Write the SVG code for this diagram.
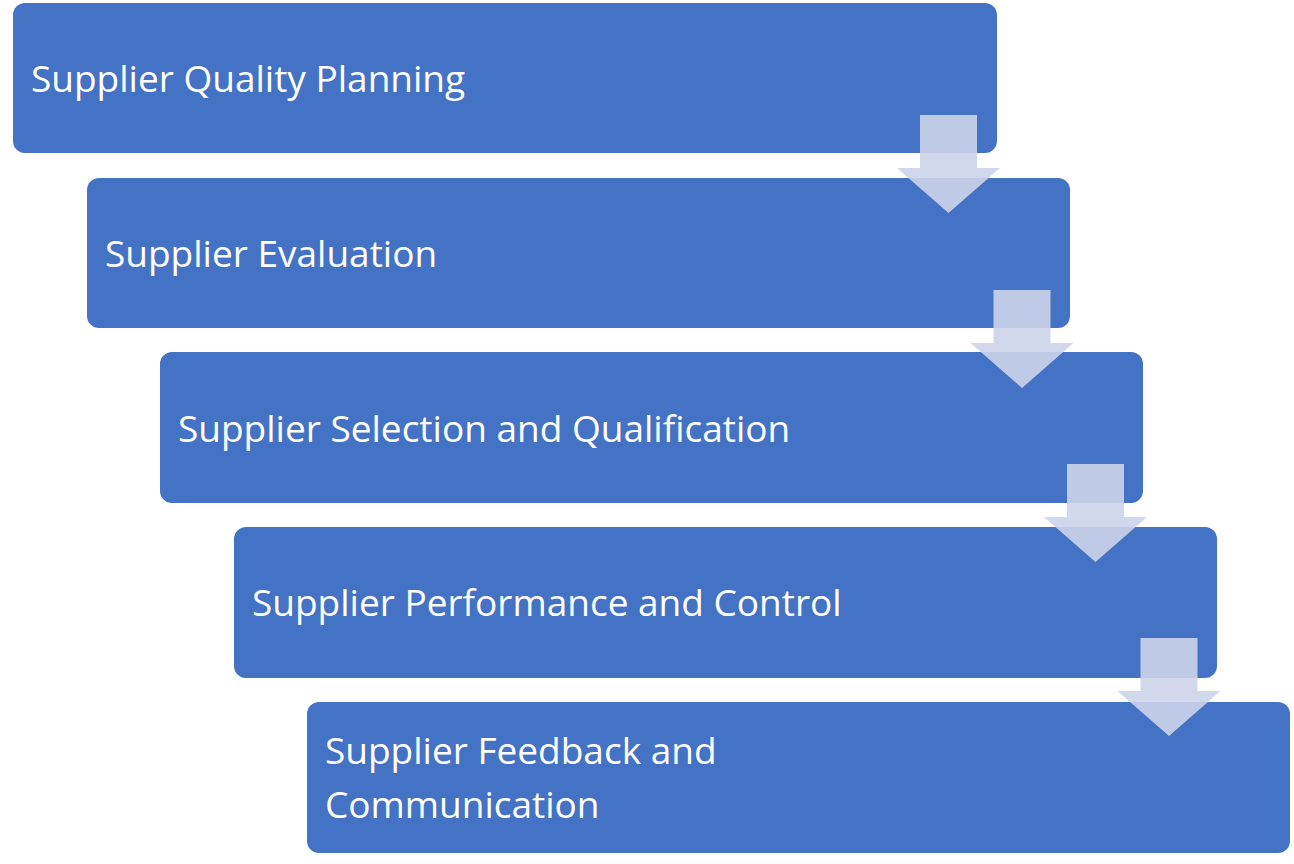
<svg xmlns="http://www.w3.org/2000/svg" width="1294" height="864" viewBox="0 0 1294 864">
<style>
.b{fill:#4472C4}
.t{fill:#fff;font-family:"Open Sans",sans-serif;font-size:37px}
.a{fill:#CDD4EA;fill-opacity:0.9}
</style>
<defs>
<path id="arr" d="M920 115H977V168H1000L948.5 213L897 168H920Z"/>
</defs>
<rect width="1294" height="864" fill="#fff"/>
<g id="n1"><rect class="b" x="13" y="3" width="984" height="150" rx="12"/><text class="t" x="31" y="92">Supplier Quality Planning</text></g>
<g id="n2"><rect class="b" x="87" y="178" width="983" height="150" rx="12"/><text class="t" x="105" y="267">Supplier Evaluation</text></g>
<g id="n3"><rect class="b" x="160" y="352" width="983" height="151" rx="12"/><text class="t" x="178" y="442">Supplier Selection and Qualification</text></g>
<g id="n4"><rect class="b" x="234" y="527" width="983" height="151" rx="12"/><text class="t" x="252" y="616">Supplier Performance and Control</text></g>
<g id="n5"><rect class="b" x="307" y="702" width="983" height="151" rx="12"/><text class="t" x="325" y="764">Supplier Feedback and</text><text class="t" x="325" y="818">Communication</text></g>
<g id="connectors">
<use href="#arr" class="a"/>
<use href="#arr" class="a" transform="translate(73.5,175)"/>
<use href="#arr" class="a" transform="translate(147,349)"/>
<use href="#arr" class="a" transform="translate(220.5,523)"/>
</g>
</svg>
